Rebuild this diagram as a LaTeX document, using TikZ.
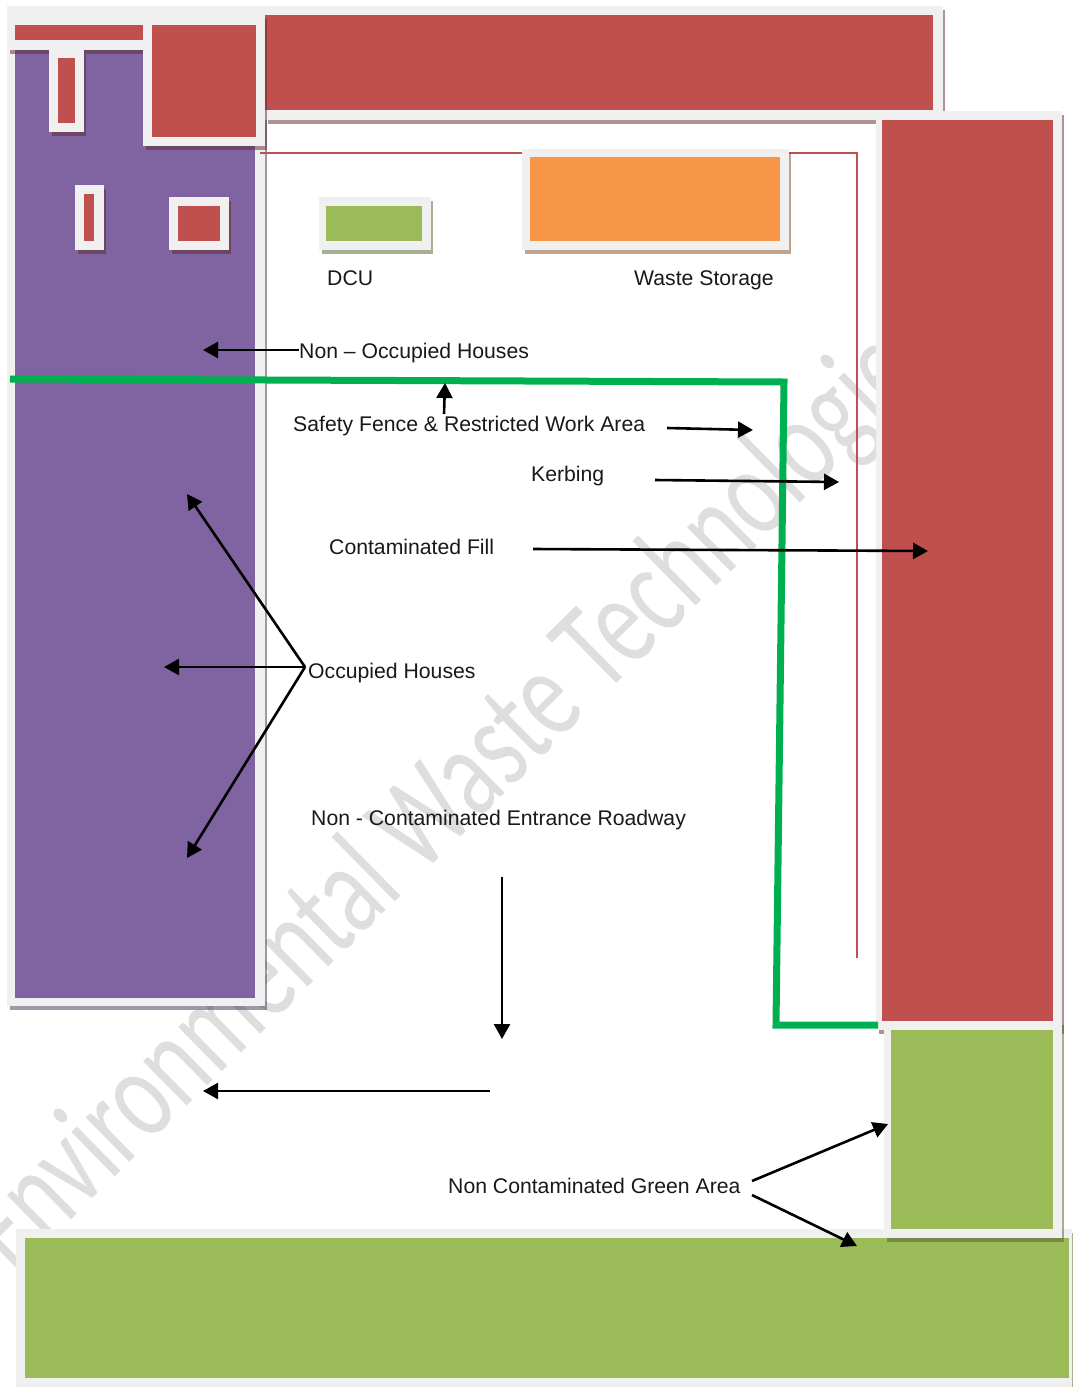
\documentclass[tikz,border=0pt]{standalone}
\usepackage{graphicx}
\usepackage{fontspec}
\setmainfont{Liberation Sans}
\newfontfamily\wmfont{Carlito}
\usetikzlibrary{arrows.meta}
\definecolor{redfill}{HTML}{C0504D}
\definecolor{purplefill}{HTML}{8064A2}
\definecolor{greenfill}{HTML}{9BBB59}
\definecolor{orangefill}{HTML}{F79646}
\definecolor{framefill}{HTML}{F0F0F0}
\definecolor{fence}{HTML}{00B050}
\definecolor{watermark}{HTML}{DEDEDE}
\tikzset{
  framebox/.style={fill=framefill},
  label/.style={anchor=base west,inner sep=0pt,font=\fontsize{21.2}{24}\selectfont,text=black!90},
  pointer/.style={draw=black,line width=2.6pt,-{Triangle[length=15pt,width=16pt]}},
  fenceline/.style={draw=fence,line width=7pt,miter limit=10},
  kerb/.style={draw=redfill,line width=1.6pt}
}
% frame x1,y1,x2,y2 ; fill x1,y1,x2,y2 ; colour
\newcommand{\blk}[9]{%
  \fill[#9!50!black,fill opacity=.5] (#1+3,#2+4) rectangle (#3+2,#4+4);
  \fill[framebox] (#1,#2) rectangle (#3,#4);
  \fill[#9] (#5,#6) rectangle (#7,#8);
}
\begin{document}
\begin{tikzpicture}[x=1pt,y=-1pt]
\useasboundingbox (0,0) rectangle (1072,1387);
\fill[white] (0,0) rectangle (1072,1387);
% watermark
\begin{scope}
\clip (0,0) rectangle (1072,1387);
\node[anchor=base west,rotate=44.5,inner sep=0pt,text=watermark,font=\wmfont\fontsize{130}{132}\selectfont] (wm) at (14,1276) {\scalebox{0.715}[1]{Environmental Waste Technologies}};
\end{scope}
% bottom green
\blk{16}{1229}{1072}{1387}{25}{1238}{1069}{1378}{greenfill}
% purple
\blk{7}{6}{265}{1006}{15}{40}{255}{998}{purplefill}
% long top red
\blk{265}{6}{943}{120}{265}{15}{933}{110}{redfill}
\fill[framefill] (7,6) rectangle (270,15);
% T bar
\blk{7}{15}{152}{50}{15}{25}{143}{40}{redfill}
\blk{49}{50}{84}{132}{58}{58}{75}{123}{redfill}
% red square
\blk{143}{15}{265}{146}{152}{25}{256}{137}{redfill}
% small rects
\blk{75}{185}{104}{250}{84}{194}{94}{241}{redfill}
\blk{169}{197}{229}{250}{178}{206}{220}{241}{redfill}
% thin red line
\coordinate (kerbA) at (260,153);
\coordinate (kerbB) at (857,153);
\coordinate (kerbC) at (857,958);
\draw[kerb] (kerbA) -- (kerbB) -- (kerbC);
% DCU, orange
\blk{319}{197}{431}{250}{326}{206}{422}{241}{greenfill}
\blk{522}{149}{789}{250}{530}{157}{780}{241}{orangefill}
% right red and green
\blk{876}{111}{1062}{1030}{882}{120}{1053}{1021}{redfill}
\blk{884}{1021}{1062}{1238}{891}{1030}{1053}{1229}{greenfill}
\fill[framefill] (884,1021) rectangle (1062,1030);
% fence
\coordinate (fenceA) at (10,379);
\coordinate (fenceB) at (784,382);
\coordinate (fenceC) at (776,1025);
\coordinate (fenceD) at (878,1025);
\draw[fenceline] (fenceA) -- (fenceB) -- (fenceC) -- (fenceD);
% labels
\node[label] (dcu) at (327,285) {DCU};
\node[label] (waste) at (634,285) {Waste Storage};
\node[label] (nonocc) at (299,358) {Non – Occupied Houses};
\node[label] (safety) at (293,431) {Safety Fence \& Restricted Work Area};
\node[label] (kerbing) at (531,481) {Kerbing};
\node[label] (fill) at (329,554) {Contaminated Fill};
\node[label] (occ) at (308,678) {Occupied Houses};
\node[label] (road) at (311,825) {Non - Contaminated Entrance Roadway};
\node[label] (greenarea) at (448,1193) {Non Contaminated Green Area};
% connector ends
\coordinate (nonoccT) at (203,350);
\coordinate (safeS) at (444,414);
\coordinate (safeT) at (445,383);
\coordinate (safeRS) at (667,428);
\coordinate (safeRT) at (753,430);
\coordinate (kerbS) at (655,480);
\coordinate (kerbT) at (839,482);
\coordinate (fillS) at (533,549);
\coordinate (fillT) at (928,551);
\coordinate (occS) at (305,667);
\coordinate (occT1) at (187,494);
\coordinate (occT2) at (164,667);
\coordinate (occT3) at (187,858);
\coordinate (roadS) at (502,877);
\coordinate (roadT) at (502,1039);
\coordinate (roadS2) at (490,1091);
\coordinate (roadT2) at (203,1091);
\coordinate (greenS1) at (752,1181);
\coordinate (greenT1) at (888,1124);
\coordinate (greenS2) at (752,1195);
\coordinate (greenT2) at (857,1246);
% connectors
\draw[pointer] (nonocc.west |- nonoccT) -- (nonoccT);
\draw[pointer] (safeS) -- (safeT);
\draw[pointer] (safeRS) -- (safeRT);
\draw[pointer] (kerbS) -- (kerbT);
\draw[pointer] (fillS) -- (fillT);
\draw[pointer] (occS) -- (occT1);
\draw[pointer] (occS) -- (occT2);
\draw[pointer] (occS) -- (occT3);
\draw[pointer] (roadS) -- (roadT);
\draw[pointer] (roadS2) -- (roadT2);
\draw[pointer] (greenS1) -- (greenT1);
\draw[pointer] (greenS2) -- (greenT2);
\end{tikzpicture}
\end{document}
